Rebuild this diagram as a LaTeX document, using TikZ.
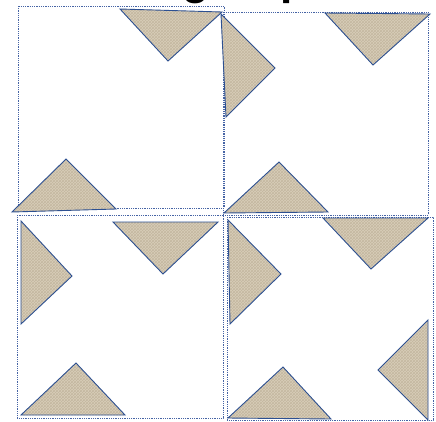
\documentclass[tikz,border=0pt]{standalone}
\usepackage{fontspec}
\setmainfont{Liberation Sans}
\usetikzlibrary{patterns}
\definecolor{boxblue}{RGB}{70,100,165}
\definecolor{triblue}{RGB}{45,80,145}
\definecolor{linen}{RGB}{216,205,185}
\definecolor{linendark}{RGB}{196,184,160}
\tikzset{
  blockbox/.style={draw=boxblue, line width=0.9pt, dash pattern=on 1pt off 0.8pt},
  goose/.style={draw=triblue, line width=0.9pt, fill=linen, line join=miter},
  goosetex/.style={pattern=crosshatch, pattern color=linendark},
  titletext/.style={font=\bfseries\fontsize{44}{48}\selectfont, inner sep=0pt, anchor=base west}
}
\newcommand{\goosetri}[3]{%
  \fill[linen] #1 -- #2 -- #3 -- cycle;
  \fill[goosetex] #1 -- #2 -- #3 -- cycle;
  \draw[goose, fill=none] #1 -- #2 -- #3 -- cycle;}
\begin{document}
\begin{tikzpicture}[x=1pt, y=-1pt]
\useasboundingbox (0,0) rectangle (436,421);
\fill[white] (0,0) rectangle (436,421);
% title (cut off at top)
\node[titletext] (tg) at (182,-6) {g};
\node[titletext] (tp) at (280,-6) {p};
% blocks
\draw[blockbox] (18,6) rectangle (224,208);
\draw[blockbox] (223,12) rectangle (428,215);
\draw[blockbox] (17,215) rectangle (223,418);
\draw[blockbox] (227,217) rectangle (433,420);
% block 1
\goosetri{(120,9)}{(222,12)}{(168,61)}
\goosetri{(12,212)}{(116,209)}{(66,159)}
% block 2
\goosetri{(221,14)}{(226,117)}{(275,68)}
\goosetri{(325,13)}{(430,14)}{(373,65)}
\goosetri{(224,213)}{(328,212)}{(279,162)}
% block 3
\goosetri{(21,221)}{(21,324)}{(72,276)}
\goosetri{(113,222)}{(218,222)}{(163,274)}
\goosetri{(21,415)}{(125,415)}{(76,363)}
% block 4
\goosetri{(228,220)}{(230,324)}{(281,274)}
\goosetri{(323,218)}{(428,218)}{(371,269)}
\goosetri{(228,418)}{(331,419)}{(283,367)}
\goosetri{(428,320)}{(428,420)}{(378,370)}
\end{tikzpicture}
\end{document}
